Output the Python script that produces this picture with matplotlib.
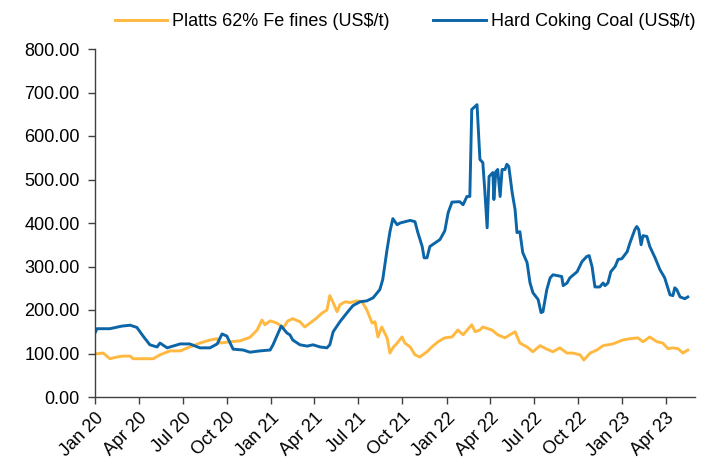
import matplotlib
matplotlib.use("Agg")
import matplotlib.pyplot as plt
import pandas as pd

plt.rcParams['font.family'] = ['Liberation Sans', 'DejaVu Sans']

coal_dates = [
    "2020-01-01", "2020-01-05", "2020-02-01", "2020-02-26", "2020-03-14", "2020-03-28",
    "2020-04-10", "2020-04-24", "2020-05-09", "2020-05-15", "2020-05-30", "2020-06-26",
    "2020-07-16", "2020-08-06", "2020-08-27", "2020-09-11", "2020-09-21", "2020-10-01",
    "2020-10-14", "2020-11-04", "2020-11-18", "2020-12-09", "2020-12-30", "2021-01-05",
    "2021-01-22", "2021-02-03", "2021-02-09", "2021-02-15", "2021-03-02", "2021-03-17",
    "2021-03-29", "2021-04-13", "2021-04-27", "2021-05-03", "2021-05-10", "2021-05-24",
    "2021-06-08", "2021-06-20", "2021-07-05", "2021-07-19", "2021-08-01", "2021-08-15",
    "2021-08-21", "2021-08-30", "2021-09-05", "2021-09-11", "2021-09-20", "2021-09-26",
    "2021-10-17", "2021-10-27", "2021-11-02", "2021-11-11", "2021-11-15", "2021-11-21",
    "2021-11-27", "2021-12-18", "2021-12-28", "2022-01-04", "2022-01-12", "2022-01-28",
    "2022-02-04", "2022-02-12", "2022-02-18", "2022-02-22", "2022-03-05", "2022-03-11",
    "2022-03-17", "2022-03-21", "2022-03-26", "2022-03-30", "2022-04-07", "2022-04-09",
    "2022-04-13", "2022-04-17", "2022-04-22", "2022-04-26", "2022-05-02", "2022-05-06",
    "2022-05-10", "2022-05-17", "2022-05-23", "2022-05-27", "2022-06-02", "2022-06-08",
    "2022-06-17", "2022-06-23", "2022-06-29", "2022-07-10", "2022-07-16", "2022-07-20",
    "2022-07-28", "2022-08-04", "2022-08-10", "2022-08-28", "2022-08-31", "2022-09-08",
    "2022-09-14", "2022-09-29", "2022-10-09", "2022-10-19", "2022-10-24", "2022-10-30",
    "2022-11-05", "2022-11-15", "2022-11-22", "2022-11-26", "2022-12-02", "2022-12-08",
    "2022-12-17", "2022-12-23", "2022-12-31", "2023-01-11", "2023-01-17", "2023-01-27",
    "2023-01-31", "2023-02-04", "2023-02-09", "2023-02-13", "2023-02-21", "2023-02-27",
    "2023-03-10", "2023-03-20", "2023-03-30", "2023-04-10", "2023-04-16", "2023-04-20",
    "2023-04-24", "2023-05-01", "2023-05-11", "2023-05-17",
]
coal_values = [
    147, 157, 157, 163, 165, 160,
    140, 120, 115, 124, 113, 122,
    122, 113, 113, 122, 145, 140,
    110, 108, 103, 106, 108, 120,
    163, 147, 143, 131, 120, 117,
    120, 115, 113, 120, 150, 173,
    194, 210, 219, 221, 228, 247,
    270, 339, 380, 410, 396, 400,
    406, 403, 378, 346, 320, 320,
    346, 362, 382, 424, 448, 449,
    442, 461, 461, 661, 672, 546,
    539, 477, 389, 507, 516, 454,
    518, 523, 461, 523, 523, 535,
    530, 470, 431, 378, 380, 332,
    309, 263, 240, 224, 194, 196,
    247, 274, 281, 277, 256, 262,
    274, 288, 311, 323, 325, 300,
    253, 253, 262, 256, 262, 288,
    300, 316, 318, 334, 355, 385,
    392, 385, 350, 371, 369, 346,
    320, 293, 274, 235, 233, 251,
    247, 230, 226, 230,
]

ore_dates = [
    "2020-01-01", "2020-01-18", "2020-02-01", "2020-02-16", "2020-02-28", "2020-03-14",
    "2020-03-20", "2020-04-10", "2020-05-01", "2020-05-15", "2020-06-05", "2020-06-26",
    "2020-07-16", "2020-08-06", "2020-08-27", "2020-09-11", "2020-09-17", "2020-10-08",
    "2020-10-28", "2020-11-18", "2020-12-03", "2020-12-13", "2020-12-19", "2020-12-30",
    "2021-01-13", "2021-01-26", "2021-02-05", "2021-02-15", "2021-03-02", "2021-03-12",
    "2021-03-23", "2021-04-06", "2021-04-17", "2021-04-27", "2021-05-03", "2021-05-10",
    "2021-05-18", "2021-05-24", "2021-06-04", "2021-06-14", "2021-06-28", "2021-07-09",
    "2021-07-19", "2021-07-30", "2021-08-05", "2021-08-11", "2021-08-19", "2021-08-30",
    "2021-09-05", "2021-09-11", "2021-09-20", "2021-09-30", "2021-10-06", "2021-10-17",
    "2021-10-27", "2021-11-06", "2021-11-21", "2021-12-01", "2021-12-14", "2021-12-28",
    "2022-01-12", "2022-01-24", "2022-02-04", "2022-02-22", "2022-03-01", "2022-03-11",
    "2022-03-17", "2022-04-05", "2022-04-17", "2022-05-02", "2022-05-23", "2022-06-02",
    "2022-06-17", "2022-06-29", "2022-07-14", "2022-07-28", "2022-08-10", "2022-08-24",
    "2022-09-08", "2022-09-20", "2022-10-05", "2022-10-13", "2022-10-26", "2022-11-09",
    "2022-11-22", "2022-12-12", "2023-01-02", "2023-01-17", "2023-02-02", "2023-02-13",
    "2023-02-27", "2023-03-14", "2023-03-26", "2023-04-06", "2023-04-16", "2023-04-27",
    "2023-05-07", "2023-05-17",
]
ore_values = [
    99, 101, 88, 92, 94, 94,
    88, 88, 88, 97, 106, 106,
    115, 124, 131, 134, 124, 127,
    129, 137, 154, 177, 166, 175,
    170, 159, 175, 180, 173, 161,
    170, 182, 193, 200, 233, 217,
    196, 212, 219, 217, 221, 219,
    200, 170, 173, 138, 161, 136,
    101, 113, 124, 138, 124, 115,
    97, 92, 104, 115, 127, 136,
    138, 154, 143, 166, 150, 154,
    161, 154, 143, 136, 150, 124,
    115, 104, 118, 110, 104, 113,
    101, 101, 97, 85, 101, 108,
    118, 122, 131, 134, 136, 127,
    138, 127, 124, 111, 113, 111,
    101, 108,
]

series_labels = ["Platts 62% Fe fines (US$/t)", "Hard Coking Coal (US$/t)"]
tick_dates = ["2020-01-01", "2020-04-01", "2020-07-01", "2020-10-01",
              "2021-01-01", "2021-04-01", "2021-07-01", "2021-10-01",
              "2022-01-01", "2022-04-01", "2022-07-01", "2022-10-01",
              "2023-01-01", "2023-04-01"]
tick_labels = ["Jan 20", "Apr 20", "Jul 20", "Oct 20", "Jan 21", "Apr 21", "Jul 21",
               "Oct 21", "Jan 22", "Apr 22", "Jul 22", "Oct 22", "Jan 23", "Apr 23"]
y_ticks = [0, 100, 200, 300, 400, 500, 600, 700, 800]

ORANGE = "#FFB940"
BLUE = "#0B65A6"

fig = plt.figure(figsize=(7.24, 4.67), dpi=100)
ax = fig.add_axes([95 / 724, 1 - 397 / 467, (695 - 95) / 724, (397 - 49) / 467])

ax.plot(pd.to_datetime(ore_dates), ore_values, color=ORANGE, lw=2.1,
        label=series_labels[0], solid_joinstyle="round")
ax.plot(pd.to_datetime(coal_dates), coal_values, color=BLUE, lw=2.1,
        label=series_labels[1], solid_joinstyle="round")

ax.set_xlim(pd.Timestamp("2020-01-01"), pd.Timestamp("2023-06-01"))
ax.set_ylim(0, 800)
ax.set_yticks(y_ticks)
ax.set_yticklabels([f"{v:.2f}" for v in y_ticks])
ax.set_xticks(pd.to_datetime(tick_dates))
ax.set_xticklabels(tick_labels, rotation=45, ha="right", rotation_mode="anchor")

for s in ["top", "right"]:
    ax.spines[s].set_visible(False)
for s in ["left", "bottom"]:
    ax.spines[s].set_color("#404040")
    ax.spines[s].set_linewidth(1.0)
ax.tick_params(axis="both", colors="#404040", labelcolor="black", labelsize=13,
               length=5, width=1.0)
ax.tick_params(axis="y", pad=6)
ax.tick_params(axis="x", pad=4)

fig.legend(loc="center", bbox_to_anchor=(405 / 724, 1 - 22 / 467), ncol=2,
           frameon=False, fontsize=13, handlelength=2.9, handletextpad=0.3,
           columnspacing=2.4)

fig.savefig("out.png", dpi=100)
